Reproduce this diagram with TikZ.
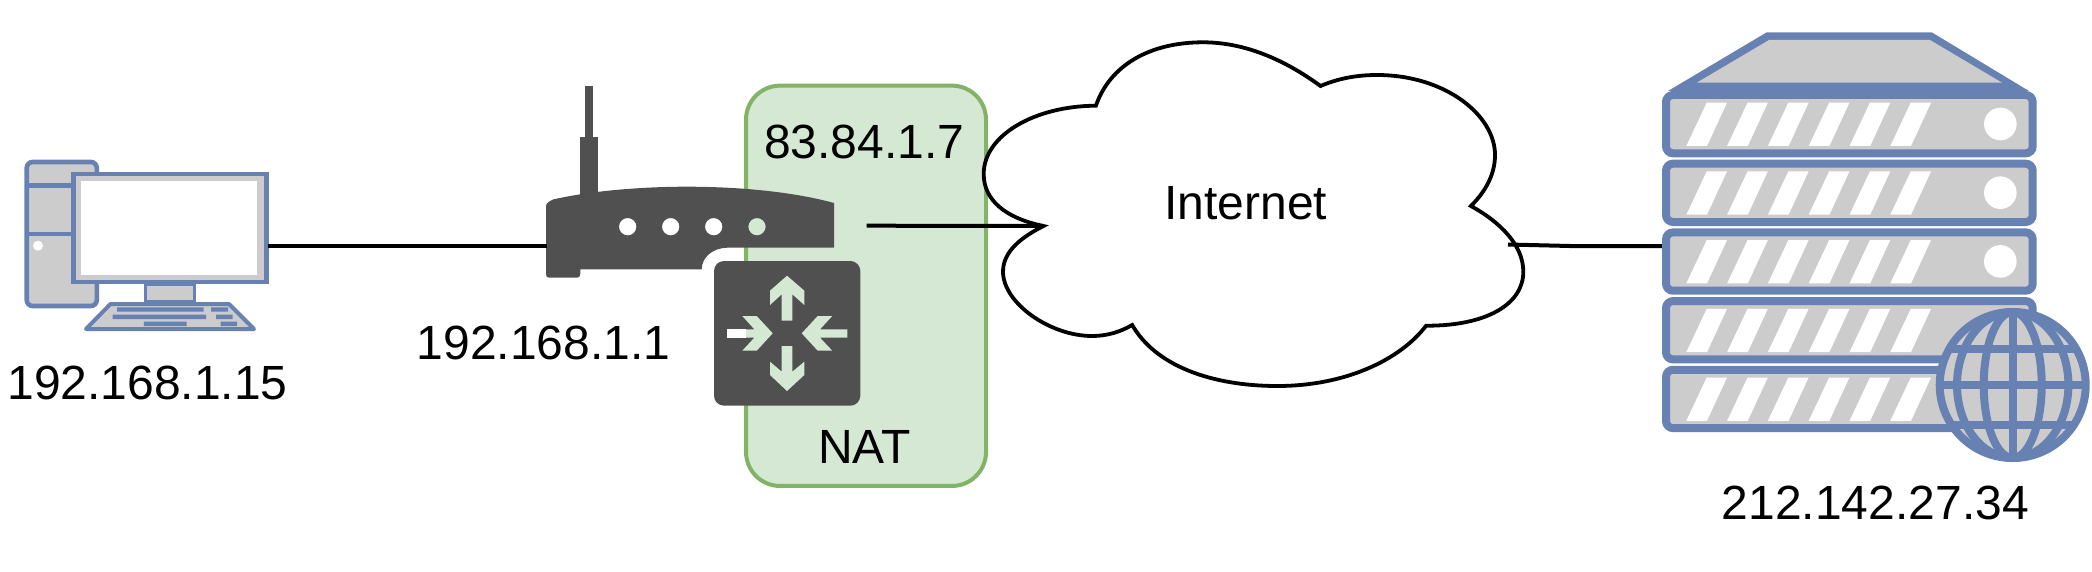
\documentclass[tikz,border=0pt]{standalone}
\usepackage{fontspec}
\setmainfont{Liberation Sans}
\definecolor{devblue}{HTML}{6881B3}
\definecolor{devgrey}{HTML}{CCCCCC}
\definecolor{darkdev}{HTML}{505050}
\definecolor{natfill}{HTML}{D5E8D4}
\definecolor{natline}{HTML}{82B366}
\tikzset{
  lbl/.style={anchor=base,inner sep=0pt,outer sep=0pt,font=\fontsize{48}{50}\selectfont,text=black},
  conn/.style={draw=black,line width=4pt},
  bluepart/.style={draw=devblue,fill=devgrey,line width=4.6pt},
  keycap/.style={fill=devblue},
  unitbox/.style={draw=devblue,fill=devgrey,line width=8pt,rounded corners=7pt},
  slat/.style={fill=white},
  darkicon/.style={fill=darkdev,even odd rule},
  natbox/.style={draw=natline,fill=natfill,line width=4pt,rounded corners=34pt,
     minimum width=240pt,minimum height=400.3pt,inner sep=0pt},
  cloudshape/.style={draw=black,fill=white,line width=3.8pt,line join=miter},
  globeline/.style={draw=devblue,line width=8pt}
}
\begin{document}
\begin{tikzpicture}[x=1pt,y=-1pt]
\useasboundingbox (0,0) rectangle (2092,572);

% NAT box
\node[natbox] (nat) at (866,285.8) {};

% connection anchors
\coordinate (pcport) at (268,245.7);
\coordinate (routerlan) at (547,245.7);
\coordinate (routerwan) at (866.7,225.7);
\coordinate (cloudwest) at (1043.4,226);
\coordinate (cloudeast) at (1508,244.5);
\coordinate (serverport) at (1663,246);

% PC tower
\draw[bluepart,rounded corners=6pt] (26.7,162) rectangle (96.8,306);
\draw[devblue,line width=4.6pt] (26.7,185.7) -- (72,185.7) (26.7,234) -- (72,234);
\fill[white] (38,245.7) circle (5pt);
% stand
\draw[bluepart,line width=3.6pt] (145.5,284) rectangle (194.5,302);
% monitor
\draw[bluepart,line join=miter] (73.6,173.9) rectangle (266.5,282.1);
\fill[white] (81,181) rectangle (256.7,275);
% keyboard
\draw[bluepart,line width=4pt,line join=round] (110.5,304) -- (229,304) -- (254,329) -- (86,329) -- cycle;
\fill[keycap] (117,307.3) rectangle (203.6,311.7) (211,307.3) rectangle (228,311.7);
\fill[keycap] (112.5,314.7) rectangle (206,319) (216,314.7) rectangle (232.6,319);
\fill[keycap] (143.8,321.7) rectangle (186.6,326) (220.5,321.7) rectangle (237,326);

% Router
\fill[darkicon] (585,86) rectangle (593.3,138);
\fill[darkicon] (580.3,137) rectangle (597.7,195);
\fill[darkicon] (546,206)
  .. controls (546,203) and (550,201) .. (553,199.5)
  .. controls (590,191) and (640,186.7) .. (686.7,186.7)
  .. controls (735,186.7) and (790,191) .. (834,203)
  -- (834,247.7) -- (728,247.7)
  .. controls (712,247.7) and (701.7,258) .. (701.7,269.3)
  -- (580.3,269.3) -- (580.3,274)
  .. controls (580.3,276.5) and (579,277.7) .. (577,277.7)
  -- (549,277.7)
  .. controls (547,277.7) and (546,276.5) .. (546,274) -- cycle
  (627.7,226.7) circle (8.7pt)
  (670.7,226.7) circle (8.7pt)
  (713.7,226.7) circle (8.7pt)
  (757,226.7) circle (8.7pt);

% NAT icon
\fill[darkicon,rounded corners=10pt] (714,261) rectangle (860.3,405.7);
\fill[darkicon,fill=natfill] (781.7,320.7) -- (781.7,294.3) -- (770,305) -- (770,290.7) -- (787,275.7) -- (804.3,290.7) -- (804.3,305) -- (792.3,294.3) -- (792.3,320.7) -- cycle;
\fill[darkicon,fill=natfill] (781.7,346) -- (792.3,346) -- (792.3,371.7) -- (804.3,361.7) -- (804.3,375) -- (787,391) -- (770,375) -- (770,361.7) -- (781.7,371.7) -- cycle;
\fill[darkicon,fill=natfill] (801.7,333.3) -- (817.7,316) -- (832.3,316) -- (820,329.3) -- (847.3,329.3) -- (847.3,337.7) -- (820,337.7) -- (832.3,350.7) -- (817.7,350.7) -- cycle;
\fill[darkicon,fill=natfill] (746,329.3) -- (754.3,329.3) -- (742.3,316) -- (756.7,316) -- (772.7,333.3) -- (756.7,350.7) -- (742.3,350.7) -- (754.3,337.7) -- (746,337.7) -- cycle;
\fill[white] (726.7,329.3) rectangle (746,337.7);

% Cloud
\draw[cloudshape] (1095.9,105.7)
  .. controls (1035,106) and (983.7,135) .. (983.7,174)
  .. controls (983.7,200) and (1005,218) .. (1043.4,226)
  .. controls (1020,238) and (1003,252) .. (1003,271.7)
  .. controls (1003,303) and (1050,336) .. (1092,336)
  .. controls (1107,336) and (1120,332) .. (1132.2,325)
  .. controls (1155,365) and (1210,386) .. (1277.6,386)
  .. controls (1345,386) and (1400,360) .. (1426.1,325.7)
  .. controls (1485,326) and (1523.3,305) .. (1523.3,271.7)
  .. controls (1523.3,245) and (1500,222) .. (1470.9,206)
  .. controls (1485,192) and (1495,175) .. (1495,155)
  .. controls (1495,115) and (1445,75) .. (1377,75)
  .. controls (1355,75) and (1337,79) .. (1320.5,86)
  .. controls (1285,60) and (1245,42.3) .. (1203,42.3)
  .. controls (1150,42.3) and (1110,65) .. cycle;

% Connectors
\draw[conn] (pcport) -- (routerlan);
\draw[conn] (routerwan) -- (cloudwest);
\draw[conn] (cloudeast) -- (1570,246) -- (serverport);

% Server top
\fill[devblue] (1766.7,32.3) -- (1931.7,32.3) -- (2029,91) -- (1668,91) -- cycle;
\fill[devgrey] (1769,40) -- (1930,40) -- (2002,82.7) -- (1696.7,82.7) -- cycle;
% Server units
\foreach \t in {91,159.7,228.4,297.1,365.8}{
  \draw[unitbox] (1666,\t+4) rectangle (2032.7,\t+62.3);
  \foreach \k in {0,...,5}{
    \fill[slat] (1706.7+40.8*\k,\t+11.7) -- (1727+40.8*\k,\t+11.7) -- (1707+40.8*\k,\t+55) -- (1686.3+40.8*\k,\t+55) -- cycle;
  }
}
\foreach \t in {91,159.7,228.4}{
  \fill[white] (2000.3,\t+33) circle (16.3pt);
}
% Globe
\filldraw[globeline,fill=devgrey] (2012.7,385) circle (73pt);
\begin{scope}
  \clip (2012.7,385) circle (73pt);
  \draw[globeline] (1935,349.3) -- (2090,349.3);
  \draw[globeline] (1935,385) -- (2090,385);
  \draw[globeline] (1935,425) -- (2090,425);
\end{scope}
\draw[globeline] (2012.7,312) -- (2012.7,458);
\draw[globeline] (2012.7,385) ellipse (29pt and 73pt);
\draw[globeline] (2012.7,385) ellipse (55.7pt and 73pt);

% Labels
\node[lbl] (pclabel) at (147.5,399) {192.168.1.15};
\node[lbl] (routerlabel) at (543.5,359) {192.168.1.1};
\node[lbl] (wanlabel) at (864.3,159) {83.84.1.7};
\node[lbl] (natlabel) at (864.5,463.3) {NAT};
\node[lbl] (cloudlabel) at (1245.7,219.3) {Internet};
\node[lbl] (serverlabel) at (1875.3,519.3) {212.142.27.34};
\end{tikzpicture}
\end{document}
